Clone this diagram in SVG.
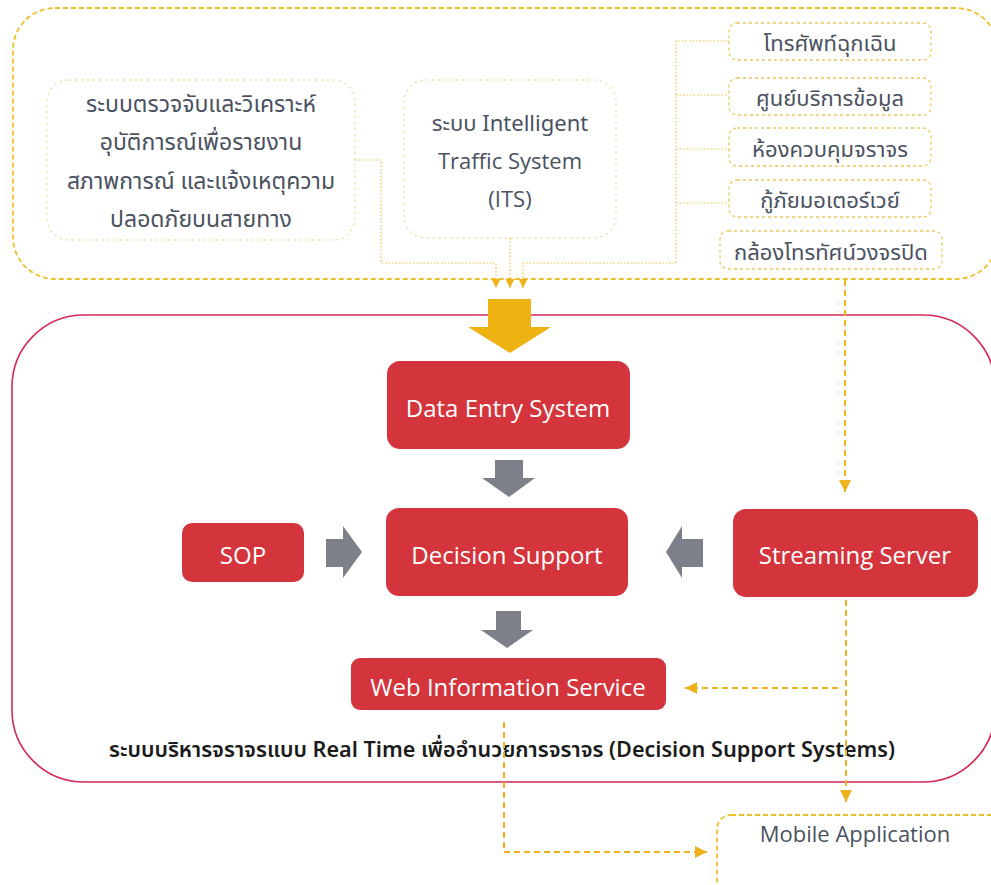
<svg xmlns="http://www.w3.org/2000/svg" width="991" height="885" viewBox="0 0 991 885">
<defs>
<style>
.th{font-family:"Noto Sans Thai","Noto Sans","Open Sans",sans-serif;fill:#4a5261;font-size:23px;text-anchor:middle}
.ths{font-family:"Noto Sans Thai","Noto Sans","Open Sans",sans-serif;fill:#4a5261;font-size:22px;text-anchor:middle}
.lat{font-family:"Open Sans","Noto Sans",sans-serif;fill:#4a5261;font-size:22px;text-anchor:middle}
.wt{font-family:"Open Sans","Noto Sans",sans-serif;fill:#ffffff;font-size:24px;text-anchor:middle}
.red{fill:#d4343b}
.soft{fill:none;stroke:#eedc9a;stroke-width:1.3;stroke-dasharray:2 4}
.src{fill:none;stroke:#ecc95a;stroke-width:1.3;stroke-dasharray:3 3}
.thin{fill:none;stroke:#efbf3a;stroke-width:1.2;stroke-dasharray:1.5 2}
.dash{fill:none;stroke:#efb21c;stroke-width:2;stroke-dasharray:6 4}
.gray{fill:#7d8089}
</style>
<marker id="sm" viewBox="0 0 10 10" refX="10" refY="5" markerWidth="9" markerHeight="9" markerUnits="userSpaceOnUse" orient="auto">
<path d="M0,0 L10,5 L0,10 z" fill="#efb21c"/>
</marker>
<marker id="ya" viewBox="0 0 10 10" refX="10" refY="5" markerWidth="12" markerHeight="12" markerUnits="userSpaceOnUse" orient="auto">
<path d="M0,0 L10,5 L0,10 z" fill="#efb21c"/>
</marker>
</defs>
<rect width="991" height="885" fill="#ffffff"/>

<g id="sources-frame">
<rect x="13" y="8" width="985" height="271" rx="42" fill="none" stroke="#efbf2a" stroke-width="1.8" stroke-dasharray="5 3"/>
</g>

<g id="dss-frame">
<rect x="12" y="315" width="983" height="467" rx="72" fill="none" stroke="#d42a55" stroke-width="1.6"/>
<text x="502" y="757" font-family="'Noto Sans Thai','Noto Sans','Open Sans',sans-serif" font-size="21.6" font-weight="600" fill="#1b1b1b" text-anchor="middle">ระบบบริหารจราจรแบบ Real Time เพื่ออำนวยการจราจร (Decision Support Systems)</text>
</g>

<g id="node-detect">
<rect x="47" y="80" width="308" height="160" rx="22" class="soft"/>
<text class="th" x="201" y="112">ระบบตรวจจับและวิเคราะห์</text>
<text class="th" x="201" y="150">อุบัติการณ์เพื่อรายงาน</text>
<text class="th" x="201" y="189">สภาพการณ์ และแจ้งเหตุความ</text>
<text class="th" x="201" y="227">ปลอดภัยบนสายทาง</text>
</g>

<g id="node-its">
<rect x="404" y="80" width="212" height="158" rx="22" class="soft"/>
<text class="ths" x="510" y="131">ระบบ Intelligent</text>
<text class="lat" x="510" y="169">Traffic System</text>
<text class="lat" x="510" y="207">(ITS)</text>
</g>

<g id="node-emergency">
<rect x="729" y="23" width="202" height="37" rx="8" class="src"/>
<text class="ths" x="830" y="51">โทรศัพท์ฉุกเฉิน</text>
</g>
<g id="node-info">
<rect x="729" y="78" width="202" height="37" rx="8" class="src"/>
<text class="ths" x="830" y="106">ศูนย์บริการข้อมูล</text>
</g>
<g id="node-control">
<rect x="729" y="128" width="202" height="38" rx="8" class="src"/>
<text class="ths" x="830" y="157">ห้องควบคุมจราจร</text>
</g>
<g id="node-rescue">
<rect x="729" y="180" width="202" height="37" rx="8" class="src"/>
<text class="ths" x="830" y="208">กู้ภัยมอเตอร์เวย์</text>
</g>
<g id="node-cctv">
<rect x="720" y="231" width="222" height="38" rx="8" class="src"/>
<text class="ths" x="831" y="260">กล้องโทรทัศน์วงจรปิด</text>
</g>

<g id="node-data-entry">
<rect x="387" y="361" width="243" height="88" rx="13" class="red"/>
<text class="wt" x="508" y="417">Data Entry System</text>
</g>
<g id="node-decision">
<rect x="386" y="508" width="242" height="88" rx="13" class="red"/>
<text class="wt" x="507" y="564">Decision Support</text>
</g>
<g id="node-sop">
<rect x="182" y="523" width="122" height="59" rx="10" class="red"/>
<text class="wt" x="243" y="564">SOP</text>
</g>
<g id="node-streaming">
<rect x="733" y="509" width="245" height="88" rx="13" class="red"/>
<text class="wt" x="855" y="564">Streaming Server</text>
</g>
<g id="node-web">
<rect x="351" y="658" width="315" height="52" rx="9" class="red"/>
<text class="wt" x="508" y="696">Web Information Service</text>
</g>
<g id="node-mobile">
<rect x="717" y="815" width="290" height="100" rx="14" fill="none" stroke="#efbf2a" stroke-width="1.8" stroke-dasharray="5 3"/>
<text class="lat" x="855" y="842">Mobile Application</text>
</g>

<g id="connectors">
<polyline class="thin" points="355,160 381,160 381,263 496,263 496,288" marker-end="url(#sm)"/>
<polyline class="thin" points="510,238 510,288" marker-end="url(#sm)"/>
<polyline class="thin" points="729,41 676,41 676,263 523,263 523,288" marker-end="url(#sm)"/>
<line class="thin" x1="676" y1="95" x2="729" y2="95"/>
<line class="thin" x1="676" y1="149" x2="729" y2="149"/>
<line class="thin" x1="676" y1="203" x2="729" y2="203"/>
<path d="M488,299 L531,299 L531,327 L551,327 L510,353 L468,327 L488,327 z" fill="#eeb213"/>
<path class="gray" d="M495,460 L523,460 L523,478 L535,478 L509,497 L482,478 L495,478 z"/>
<path class="gray" d="M496,611 L521,611 L521,630 L533,630 L507,648 L481,630 L496,630 z"/>
<path class="gray" d="M326,539 L343,539 L343,526 L362,552 L343,578 L343,567 L326,567 z"/>
<path class="gray" d="M703,539 L682,539 L682,526 L666,552 L682,578 L682,567 L703,567 z"/>
<line class="dash" x1="845" y1="280" x2="845" y2="492" marker-end="url(#ya)"/>
<line class="dash" x1="846" y1="600" x2="846" y2="802" marker-end="url(#ya)"/>
<line class="dash" x1="838" y1="688" x2="685" y2="688" marker-end="url(#ya)"/>
<polyline class="dash" points="504,722 504,852 707,852" marker-end="url(#ya)"/>
</g>
</svg>
